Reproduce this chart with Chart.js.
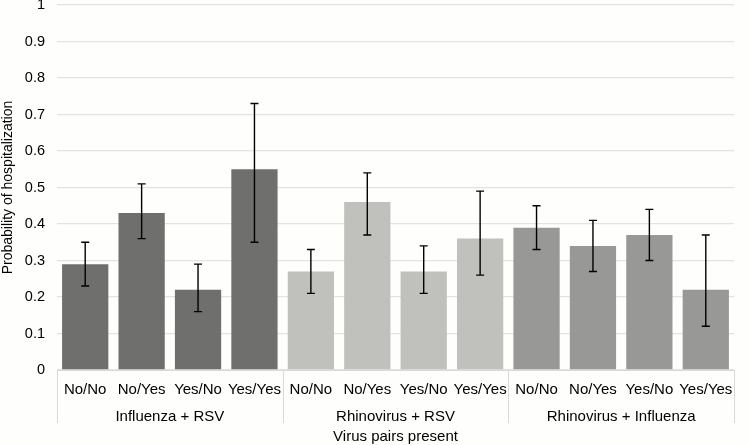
<!DOCTYPE html>
<html>
<head>
<meta charset="utf-8">
<script src="https://cdn.jsdelivr.net/npm/chart.js@4.4.1/dist/chart.umd.min.js"></script>
<style>
  html, body { margin: 0; padding: 0; background: #fefefc; }
  #wrap { width: 749px; height: 445px; }
</style>
</head>
<body>
<div id="wrap"><canvas id="chart"></canvas></div>
<script>
const pairs = ['No/No', 'No/Yes', 'Yes/No', 'Yes/Yes',
               'No/No', 'No/Yes', 'Yes/No', 'Yes/Yes',
               'No/No', 'No/Yes', 'Yes/No', 'Yes/Yes'];
const groups = ['Influenza + RSV', 'Rhinovirus + RSV', 'Rhinovirus + Influenza'];
const probability = [0.29, 0.43, 0.22, 0.55, 0.27, 0.46, 0.27, 0.36, 0.39, 0.34, 0.37, 0.22];
const lowerCI = [0.23, 0.36, 0.16, 0.35, 0.21, 0.37, 0.21, 0.26, 0.33, 0.27, 0.30, 0.12];
const upperCI = [0.35, 0.51, 0.29, 0.73, 0.33, 0.54, 0.34, 0.49, 0.45, 0.41, 0.44, 0.37];
const groupColors = ['#6f6f6d', '#c0c1bd', '#989996'];

const FONT = '"Liberation Sans", Arial, sans-serif';

// error bars + group labels under the axis
const extras = {
  id: 'extras',
  afterDatasetsDraw(chart) {
    const ctx = chart.ctx;
    const x = chart.scales.x, y = chart.scales.y;
    ctx.save();
    ctx.strokeStyle = '#000';
    ctx.lineWidth = 1.4;
    probability.forEach((v, i) => {
      const px = x.getPixelForValue(i);
      const top = y.getPixelForValue(upperCI[i]);
      const bot = y.getPixelForValue(lowerCI[i]);
      ctx.beginPath();
      ctx.moveTo(px, top); ctx.lineTo(px, bot);
      ctx.moveTo(px - 4, top); ctx.lineTo(px + 4, top);
      ctx.moveTo(px - 4, bot); ctx.lineTo(px + 4, bot);
      ctx.stroke();
    });
    ctx.restore();
  },
  afterDraw(chart) {
    const ctx = chart.ctx;
    const x = chart.scales.x;
    const area = chart.chartArea;
    const step = x.getPixelForValue(1) - x.getPixelForValue(0);
    ctx.save();
    ctx.strokeStyle = '#d9d9d9';
    ctx.lineWidth = 1;
    for (let g = 0; g <= groups.length; g++) {
      const px = Math.round(x.getPixelForValue(g * 4) - step / 2) + 0.5;
      ctx.beginPath();
      ctx.moveTo(px, area.bottom);
      ctx.lineTo(px, area.bottom + 53);
      ctx.stroke();
    }
    ctx.fillStyle = '#000';
    ctx.font = '15px ' + FONT;
    ctx.textAlign = 'center';
    ctx.textBaseline = 'middle';
    groups.forEach((name, g) => {
      const cx = (x.getPixelForValue(g * 4) + x.getPixelForValue(g * 4 + 3)) / 2;
      ctx.fillText(name, cx, area.bottom + 47);
    });
    ctx.fillText('Virus pairs present', (area.left + area.right) / 2, area.bottom + 67);
    ctx.restore();
  }
};

new Chart(document.getElementById('chart'), {
  type: 'bar',
  data: {
    labels: pairs,
    datasets: [{
      data: probability,
      backgroundColor: probability.map((v, i) => groupColors[Math.floor(i / 4)]),
      borderWidth: 0,
      barPercentage: 0.82,
      categoryPercentage: 1
    }]
  },
  options: {
    responsive: true,
    maintainAspectRatio: false,
    animation: false,
    layout: { padding: { top: 5, right: 15, left: 0, bottom: 0 } },
    plugins: { legend: { display: false }, tooltip: { enabled: false } },
    scales: {
      x: {
        grid: { display: false, drawTicks: false },
        border: { display: true, color: '#d9d9d9', width: 1 },
        ticks: { color: '#000', font: { family: FONT, size: 15 }, padding: 11, maxRotation: 0, autoSkip: false },
        afterFit(scale) { scale.height = 75; scale.paddingLeft = 0; scale.paddingRight = 0; }
      },
      y: {
        min: 0, max: 1,
        grid: { color: '#e3e3e1', lineWidth: 1.3, drawTicks: false },
        border: { display: false },
        ticks: { stepSize: 0.1, color: '#000', font: { family: FONT, size: 14.5 }, padding: 12,
                 callback: v => Math.round(v * 10) / 10 },
        title: { display: true, text: 'Probability of hospitalization', color: '#000',
                 font: { family: FONT, size: 14 }, padding: { top: 0, bottom: 0 } },
        afterFit(scale) { scale.width = 57; scale.paddingTop = 0; scale.paddingBottom = 0; }
      }
    }
  },
  plugins: [extras]
});
</script>
</body>
</html>
